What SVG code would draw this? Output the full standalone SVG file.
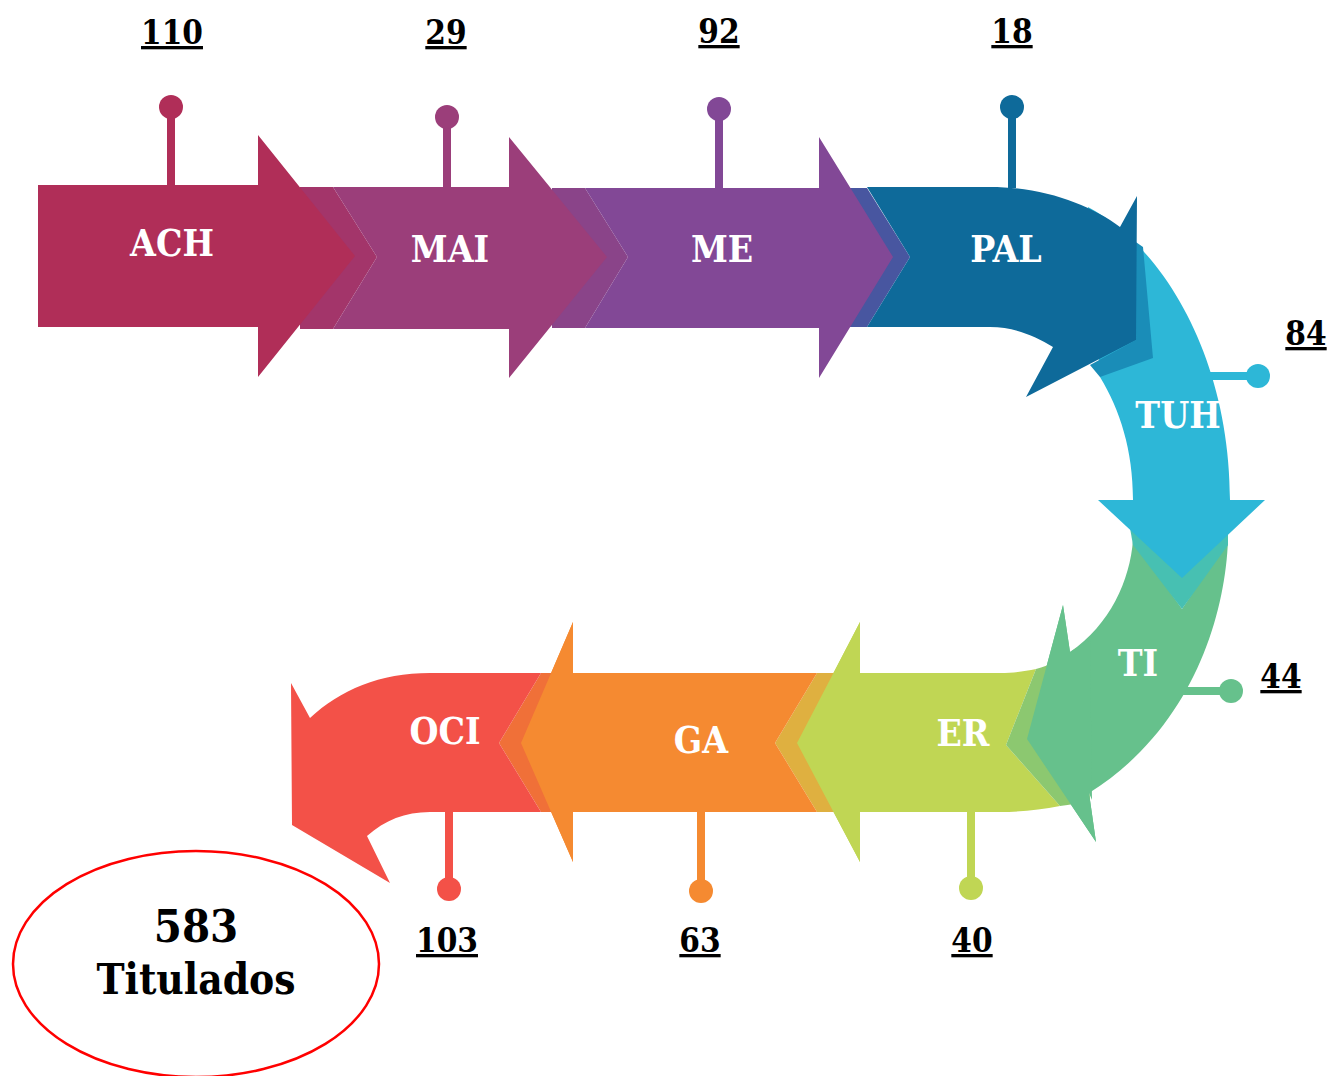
<svg xmlns="http://www.w3.org/2000/svg" width="1330" height="1076" viewBox="0 0 1330 1076">
<style>
.lbl{font-family:'DejaVu Serif Condensed','DejaVu Serif','Liberation Serif',serif;font-stretch:condensed;font-weight:bold;font-size:37px;fill:#ffffff;text-anchor:middle}
.num{font-family:'DejaVu Serif Condensed','DejaVu Serif','Liberation Serif',serif;font-stretch:condensed;font-weight:bold;font-size:33px;fill:#000000;text-anchor:middle;text-decoration:underline}
.tot{font-family:'DejaVu Serif Condensed','DejaVu Serif','Liberation Serif',serif;font-stretch:condensed;font-weight:bold;font-size:45px;fill:#000000;text-anchor:middle}
</style>
<rect width="1330" height="1076" fill="#ffffff"/>
<g id="connectors">
  <line x1="171" y1="107" x2="171" y2="186" stroke="#b02e58" stroke-width="8"/>
  <circle cx="171" cy="107" r="12" fill="#b02e58"/>
  <line x1="447" y1="117" x2="447" y2="188" stroke="#9b3e7a" stroke-width="8"/>
  <circle cx="447" cy="117" r="12" fill="#9b3e7a"/>
  <line x1="719" y1="109" x2="719" y2="189" stroke="#824896" stroke-width="8"/>
  <circle cx="719" cy="109" r="12" fill="#824896"/>
  <line x1="1012" y1="107" x2="1012" y2="188" stroke="#0e6a9a" stroke-width="8"/>
  <circle cx="1012" cy="107" r="12" fill="#0e6a9a"/>
  <line x1="1205" y1="376" x2="1258" y2="376" stroke="#2db7d7" stroke-width="8"/>
  <circle cx="1258" cy="376" r="12" fill="#2db7d7"/>
  <line x1="1175" y1="691" x2="1231" y2="691" stroke="#66c18c" stroke-width="8"/>
  <circle cx="1231" cy="691" r="12" fill="#66c18c"/>
  <line x1="971" y1="811" x2="971" y2="888" stroke="#c0d654" stroke-width="8"/>
  <circle cx="971" cy="888" r="12" fill="#c0d654"/>
  <line x1="701" y1="811" x2="701" y2="891" stroke="#f58a31" stroke-width="8"/>
  <circle cx="701" cy="891" r="12" fill="#f58a31"/>
  <line x1="449" y1="811" x2="449" y2="889" stroke="#f35148" stroke-width="8"/>
  <circle cx="449" cy="889" r="12" fill="#f35148"/>
</g>
<g id="TI">
  <path d="M1133,540 L1182,609 L1228,540 C1225,620 1190,730 1089,793 L1096,842 L1027,739 L1063,605 L1070,652 C1110,625 1130,580 1133,540 Z" fill="#66c18c"/>
</g>
<g id="ER">
  <path d="M797,743 L860,622 L860,673 L1000,673 C1015,673 1025,671 1036,669 L1006,745 L1060,806 C1040,810 1020,812 1000,812 L860,812 L860,862 Z" fill="#c0d654"/>
  <path d="M1036,669 C1050,665 1062,660 1076,648 L1090,800 C1080,803 1070,805 1060,806 L1006,745 Z" fill="#8cc870"/>
</g>
<g id="TI-head">
  <path d="M1063,605 L1070,652 L1090,640 L1092,800 L1089,793 L1096,842 L1027,739 Z" fill="#66c18c"/>
</g>
<g id="TUH">
  <path d="M1130,528 L1228,528 L1228,545 L1182,609 L1133,545 Z" fill="#47c0b2"/>
  <path d="M1088,207 C1165,248 1230,360 1230,500 L1265,500 L1182,578 L1098,500 L1133,500 C1133,450 1120,410 1100,377 Z" fill="#2db7d7"/>
  <path d="M1130,238 L1143,247 L1153,358 L1100,377 L1090,365 L1136,340 Z" fill="#1a8db8"/>
</g>
<g id="PAL">
  <path d="M850,188 L867,188 L910,257 L867,327 L850,327 Z" fill="#4856a0"/>
  <path d="M867,187 L990,187 C1045,187 1090,205 1120,227 L1137,196 L1136,340 L1026,397 L1053,347 C1035,336 1015,327 990,327 L867,327 L910,257 Z" fill="#0e6a9a"/>
</g>
<g id="ME">
  <path d="M552,188 L585,188 L628,257 L585,328 L552,328 Z" fill="#8a4489"/>
  <path d="M585,188 L819,188 L819,137 L893,257 L819,378 L819,328 L585,328 L628,257 Z" fill="#824896"/>
</g>
<g id="MAI">
  <path d="M300,187 L333,187 L377,257 L333,329 L300,329 Z" fill="#a3356a"/>
  <path d="M333,187 L509,187 L509,137 L607,257 L509,378 L509,329 L333,329 L377,257 Z" fill="#9b3e7a"/>
</g>
<g id="ACH">
  <path d="M38,185 L258,185 L258,135 L355,256 L258,377 L258,327 L38,327 Z" fill="#b02e58"/>
</g>
<g id="GA">
  <path d="M817,673 L840,673 L840,812 L817,812 L775,743 Z" fill="#dfb040"/>
  <path d="M521,743 L573,622 L573,673 L817,673 L775,743 L817,812 L573,812 L573,862 Z" fill="#f58a31"/>
</g>
<g id="OCI">
  <path d="M541,673 L560,673 L560,812 L541,812 L499,743 Z" fill="#f07038"/>
  <path d="M541,673 L430,673 C380,673 340,690 310,718 L291,683 L292,825 L390,883 L367,836 C385,820 405,812 430,812 L541,812 L499,743 Z" fill="#f35148"/>
</g>
<g id="GA-top">
  <path d="M521,743 L573,622 L573,673 L600,673 L600,812 L573,812 L573,862 Z" fill="#f58a31"/>
</g>
<g id="ER-top">
  <path d="M797,743 L860,622 L860,673 L880,673 L880,812 L860,812 L860,862 Z" fill="#c0d654"/>
</g>
<g id="labels">
  <text class="lbl" x="172" y="256">ACH</text>
  <text class="lbl" x="450" y="262">MAI</text>
  <text class="lbl" x="722" y="262">ME</text>
  <text class="lbl" x="1006" y="262">PAL</text>
  <text class="lbl" x="1178" y="428">TUH</text>
  <text class="lbl" x="1138" y="676">TI</text>
  <text class="lbl" x="963" y="746">ER</text>
  <text class="lbl" x="701" y="753">GA</text>
  <text class="lbl" x="445" y="744">OCI</text>
</g>
<g id="numbers">
  <text class="num" x="172" y="44">110</text>
  <text class="num" x="446" y="44">29</text>
  <text class="num" x="719" y="43">92</text>
  <text class="num" x="1012" y="43">18</text>
  <text class="num" x="1306" y="345">84</text>
  <text class="num" x="1281" y="688">44</text>
  <text class="num" x="447" y="952">103</text>
  <text class="num" x="700" y="952">63</text>
  <text class="num" x="972" y="952">40</text>
</g>
<g id="total">
  <ellipse cx="196" cy="964" rx="183" ry="113" fill="none" stroke="#ff0000" stroke-width="2.5"/>
  <text class="tot" x="196" y="942">583</text>
  <text class="tot" x="196" y="994" style="font-size:42px">Titulados</text>
</g>
</svg>
